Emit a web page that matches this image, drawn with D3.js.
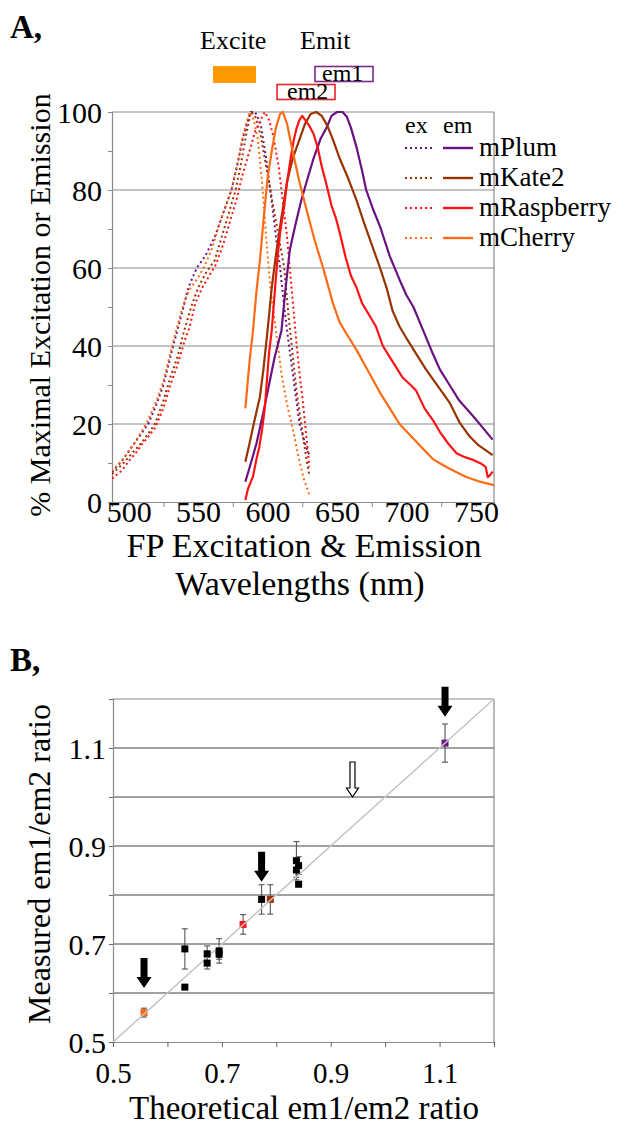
<!DOCTYPE html>
<html><head><meta charset="utf-8">
<script src="https://cdn.jsdelivr.net/npm/d3@7"></script>
<style>
body{margin:0;background:#fff;}
text{font-family:"Liberation Serif","Times New Roman",serif;fill:#000;}
</style></head>
<body>
<div id="chart"></div>
<script>
// ---------- Panel A data: [wavelength nm, % of max] ----------
const seriesNames = ["mPlum","mKate2","mRaspberry","mCherry"];
const seriesColors = ["#6a1280","#993300","#ff1212","#ff6a14"];

const plumEx = [[488,7.7],[495,10.5],[500,13],[505,15.5],[510,18],[514,20],[520,25],[525,30],[532,40],[538,48],[543,55],[549,60],[555,63],[562,68],[568,74],[574,80],[578,86],[582,93],[586,98],[588,100],[591,100],[595,97],[599,88],[603,77],[606,68],[609,60],[612,50],[614,44],[617,36],[620,28],[623,20],[627,15],[630,12]];
const kate2Ex = [[488,7.2],[495,9.5],[500,11.5],[505,13.5],[510,15.5],[514,17.5],[519,20],[525,26],[530,32],[535,37],[540,44],[545,50],[550,55],[556,59],[562,62],[567,68],[572,74],[577,80],[581,87],[585,95],[588,100],[591,99],[595,94],[599,86],[603,78],[607,70],[610,64],[612,60],[615,48],[618,38],[621,28],[625,18],[628,11],[630,7]];
const raspEx = [[488,6],[495,8],[500,10.5],[505,12.5],[510,15],[514,16.7],[519,19],[525,24],[530,30],[535,35],[540,41],[544,45],[548,51],[553,55],[558,58],[563,61],[568,66],[573,72],[578,78],[582,84],[587,90],[591,95],[595,98],[598,100],[601,98],[604,94],[608,86],[611,77],[614,68],[616,60],[619,48],[621,40],[623,33],[625,27],[627,20],[629,13],[630,9]];
const cherryEx = [[488,8],[495,10.5],[500,13],[505,15.5],[510,18.5],[514,21],[520,26],[525,31],[532,41],[538,49],[543,54],[549,57],[554,60],[560,65],[566,72],[574,80],[579,88],[583,95],[587,100],[590,98],[593,93],[596,82],[599,68],[602,55],[606,44],[610,33],[614,25],[618,19],[622,12],[626,6],[630,2]];

const plumEm = [[584,5.2],[588,10],[592,15],[597,23],[601,30],[605,37],[610,44],[613,55],[616,64.6],[620,71],[624,77],[628,82],[633,88],[638,93],[642.5,96],[646,99],[650,100],[654,100],[657,98.8],[660,96],[664,91],[668,85],[671,80],[676,75],[681,70.6],[688,63],[695,57],[700,53],[705,50],[712,44],[719,38],[724,34],[731,30],[738,26],[748,22],[755,19],[762,16]];
const kate2Em = [[584,10.3],[587,15],[590,20],[594.5,27],[597,34],[600,44],[603,55],[606.5,64.6],[610,73],[614,82],[618,88],[623,93],[627,97],[631,99.5],[635,100],[639,99],[643,96.5],[647,93],[652,88],[658,83],[664,77.4],[670,71],[676,65],[681,60],[686,54.5],[690,49],[695,45],[700,42],[707,38],[714,34],[724,29],[731,25.5],[738,20.5],[745,17],[752,14.5],[762,12]];
const raspEm = [[584,0.5],[586,3.5],[589.5,6.5],[592,11],[594,14],[596,18.5],[598,24],[599.5,31],[601,38],[603,44],[605,53],[607,62],[609,69],[612,76],[614,82],[617,89],[619,93],[621,96],[623,98],[625,99],[627,98],[630,96.5],[633,94.5],[636,91],[639,86],[642,82],[646,76],[649,73],[652,69],[656,63],[660,58],[664,55],[668,51],[673,48],[678,45],[683,40],[690,36],[697,32],[703,30],[707,28.5],[713,24],[719,21],[724,18],[730,15],[736,12.5],[742,11.5],[748,10.8],[754,9.8],[757,9],[758.5,6.4],[760,6.8],[762,7.8]];
const cherryEm = [[584,24],[587,36],[589.5,44],[592,54],[594.5,62],[597,72],[600,83],[603,90],[606,96],[609,99.5],[611,100],[614,97],[618,90],[623,82],[628,75],[634,67],[640,60],[647,51],[652,46],[657,43],[664,39],[671,34.5],[681,28],[688,24],[695,20],[703,17],[711,14],[719,11],[727,9.3],[735,7.8],[743,6.4],[752,5.3],[763,4.3]];

const exSeries = [plumEx, kate2Ex, raspEx, cherryEx];
const emSeries = [plumEm, kate2Em, raspEm, cherryEm];

const aYTicks = [0,10,20,30,40,50,60,70,80,90,100];
const aXTicks = [500,525,550,575,600,625,650,675,700,725,750];
const aGrid = [20,40,60,80,100];

// ---------- Panel B data ----------
const bTheoretical = [0.557,0.632,0.632,0.673,0.673,0.695,0.695,0.739,0.773,0.789,0.837,0.837,0.841,0.841,1.110];
const bMeasured    = [0.560,0.690,0.612,0.680,0.661,0.686,0.679,0.740,0.791,0.791,0.870,0.851,0.860,0.822,1.110];
const bError       = [0.009,0.041,0.003,0.016,0.012,0.025,0.010,0.020,0.030,0.030,0.039,0.015,0.018,0.005,0.039];
const bColors      = ["#ff6a14","#000","#000","#000","#000","#000","#000","#ff1212","#000","#993300","#000","#000","#000","#000","#6a1280"];
const arrowsFilledX = [0.557,0.773,1.110];
const arrowsFilledY = [0.610,0.827,1.164];
const arrowsOpenX = [0.940];
const arrowsOpenY = [1.000];
const bTicks = [0.5,0.6,0.7,0.8,0.9,1.0,1.1,1.2];
const bGrid = [0.6,0.7,0.8,0.9,1.0,1.1];

// ---------- Drawing ----------
const W = 641, H = 1128;
const svg = d3.select("#chart").append("svg").attr("width", W).attr("height", H);

// ===== Panel A =====
const xA = d3.scaleLinear().domain([488,763]).range([112,494]);
const yA = d3.scaleLinear().domain([0,100]).range([502,112]);
const gA = svg.append("g");

gA.append("text").attr("x",10).attr("y",38).attr("font-size",33).attr("font-weight","bold").text("A,");

// header
gA.append("text").attr("x",200).attr("y",49).attr("font-size",26).text("Excite");
gA.append("text").attr("x",300).attr("y",49).attr("font-size",26).text("Emit");
gA.append("rect").attr("x",213).attr("y",66).attr("width",43).attr("height",17).attr("fill","#ff9900");
gA.append("rect").attr("x",315).attr("y",66.5).attr("width",58).attr("height",15).attr("fill","none").attr("stroke","#7a2a8c").attr("stroke-width",1.6);
gA.append("text").attr("x",322).attr("y",81).attr("font-size",24).text("em1");
gA.append("rect").attr("x",277).attr("y",84.5).attr("width",58).attr("height",15).attr("fill","none").attr("stroke","#e8242a").attr("stroke-width",1.6);
gA.append("text").attr("x",287).attr("y",99).attr("font-size",24).text("em2");

// grid
gA.selectAll(".gridA").data(aGrid).enter().append("line")
  .attr("x1",xA(488)).attr("x2",xA(763)).attr("y1",d=>yA(d)).attr("y2",d=>yA(d))
  .attr("stroke","#8a8a8a").attr("stroke-width",1.2);
gA.append("line").attr("x1",xA(763)).attr("x2",xA(763)).attr("y1",yA(0)).attr("y2",yA(100)).attr("stroke","#8a8a8a").attr("stroke-width",1.2);

// axes
const axA_y = gA.append("g").attr("transform",`translate(${xA(488)},0)`)
  .call(d3.axisLeft(yA).tickValues(aYTicks).tickSize(4).tickPadding(6).tickFormat(d=> d%20===0 ? d : ""));
const axA_x = gA.append("g").attr("transform",`translate(0,${yA(0)})`)
  .call(d3.axisBottom(xA).tickValues(aXTicks).tickSize(5).tickFormat(d=> d%50===0 ? d : ""));
[axA_y, axA_x].forEach(ax=>{
  ax.select(".domain").attr("stroke","#8a8a8a").attr("stroke-width",1.2);
  ax.selectAll(".tick line").attr("stroke","#8a8a8a");
  ax.selectAll("text").attr("font-size",30).attr("font-family","Liberation Serif").attr("fill","#000");
});
axA_y.selectAll("text").attr("dy","0.34em");
axA_x.selectAll("text").attr("y",20).attr("dy","0");

// curves
svg.append("clipPath").attr("id","clipA").append("rect")
  .attr("x",xA(488)).attr("y",yA(100)-3).attr("width",xA(763)-xA(488)).attr("height",yA(0)-yA(100)+3);
const line = d3.line().x(d=>xA(d[0])).y(d=>yA(d[1]));
const curves = gA.append("g").attr("clip-path","url(#clipA)");
exSeries.forEach((s,i)=>{
  curves.append("path").attr("d",line(s)).attr("fill","none").attr("stroke",seriesColors[i])
    .attr("stroke-width",2).attr("stroke-dasharray","2,3");
});
emSeries.forEach((s,i)=>{
  curves.append("path").attr("d",line(s)).attr("fill","none").attr("stroke",seriesColors[i])
    .attr("stroke-width",2.2).attr("stroke-linejoin","round");
});

// legend
gA.append("text").attr("x",405).attr("y",133).attr("font-size",24).text("ex");
gA.append("text").attr("x",443).attr("y",133).attr("font-size",24).text("em");
const legRowY = [148,178,208,238];
seriesNames.forEach((n,i)=>{
  const y = legRowY[i];
  gA.append("line").attr("x1",405).attr("x2",433).attr("y1",y).attr("y2",y)
    .attr("stroke",seriesColors[i]).attr("stroke-width",2).attr("stroke-dasharray","2,3");
  gA.append("line").attr("x1",443).attr("x2",473).attr("y1",y).attr("y2",y)
    .attr("stroke",seriesColors[i]).attr("stroke-width",2.4);
  gA.append("text").attr("x",479).attr("y",y+8).attr("font-size",27).text(n);
});

// axis titles
gA.append("text").attr("transform","translate(50,305) rotate(-90)").attr("text-anchor","middle")
  .attr("font-size",30).text("% Maximal Excitation or Emission");
gA.append("text").attr("x",304).attr("y",557).attr("text-anchor","middle").attr("font-size",34).text("FP Excitation & Emission");
gA.append("text").attr("x",300).attr("y",595).attr("text-anchor","middle").attr("font-size",34).text("Wavelengths (nm)");

// ===== Panel B =====
const xB = d3.scaleLinear().domain([0.5,1.2]).range([113,494]);
const yB = d3.scaleLinear().domain([0.5,1.2]).range([1042,699]);
const gB = svg.append("g");
gB.append("text").attr("x",10).attr("y",671).attr("font-size",33).attr("font-weight","bold").text("B,");

gB.selectAll(".gridB").data(bGrid).enter().append("line")
  .attr("x1",xB(0.5)).attr("x2",xB(1.2)).attr("y1",d=>yB(d)).attr("y2",d=>yB(d))
  .attr("stroke","#444").attr("stroke-width",1.2);
gB.append("line").attr("x1",xB(0.5)).attr("x2",xB(1.2)).attr("y1",yB(1.2)).attr("y2",yB(1.2)).attr("stroke","#8a8a8a").attr("stroke-width",1.2);
gB.append("line").attr("x1",xB(1.2)).attr("x2",xB(1.2)).attr("y1",yB(0.5)).attr("y2",yB(1.2)).attr("stroke","#8a8a8a").attr("stroke-width",1.2);

const fmt = d3.format(".1f");
const axB_y = gB.append("g").attr("transform",`translate(${xB(0.5)},0)`)
  .call(d3.axisLeft(yB).tickValues(bTicks).tickSize(4).tickPadding(3).tickFormat((d,i)=> i%2===0 ? fmt(d) : ""));
const axB_x = gB.append("g").attr("transform",`translate(0,${yB(0.5)})`)
  .call(d3.axisBottom(xB).tickValues(bTicks).tickSize(5).tickFormat((d,i)=> i%2===0 ? fmt(d) : ""));
[axB_y, axB_x].forEach(ax=>{
  ax.select(".domain").attr("stroke","#8a8a8a").attr("stroke-width",1.2);
  ax.selectAll(".tick line").attr("stroke","#666");
  ax.selectAll("text").attr("font-size",30).attr("font-family","Liberation Serif").attr("fill","#000");
});
axB_y.selectAll("text").attr("dy","0.34em");
axB_x.selectAll("text").attr("y",41).attr("dy","0").attr("font-size",29);

// error bars
const idx = d3.range(bTheoretical.length);
const eb = gB.append("g").attr("stroke","#555").attr("stroke-width",1.1);
idx.forEach(i=>{
  const x = xB(bTheoretical[i]);
  const y1 = yB(bMeasured[i]-bError[i]), y2 = yB(bMeasured[i]+bError[i]);
  eb.append("line").attr("x1",x).attr("x2",x).attr("y1",y1).attr("y2",y2);
  eb.append("line").attr("x1",x-3).attr("x2",x+3).attr("y1",y1).attr("y2",y1);
  eb.append("line").attr("x1",x-3).attr("x2",x+3).attr("y1",y2).attr("y2",y2);
});
const colored = idx.filter(i=>bColors[i] !== "#000");
const blacks = idx.filter(i=>bColors[i] === "#000");
const sq = 7;
gB.selectAll(".ptc").data(colored).enter().append("rect")
  .attr("x",i=>xB(bTheoretical[i])-sq/2).attr("y",i=>yB(bMeasured[i])-sq/2)
  .attr("width",sq).attr("height",sq).attr("fill",i=>bColors[i]);
// identity line
gB.append("line").attr("x1",xB(0.5)).attr("y1",yB(0.5)).attr("x2",xB(1.2)).attr("y2",yB(1.2))
  .attr("stroke","#c4c4c4").attr("stroke-width",1.5);
gB.selectAll(".ptb").data(blacks).enter().append("rect")
  .attr("x",i=>xB(bTheoretical[i])-sq/2).attr("y",i=>yB(bMeasured[i])-sq/2)
  .attr("width",sq).attr("height",sq).attr("fill","#000");

// arrows
function arrowPath(px,py,sw,hw,hh,len){
  return `M${px-sw/2},${py-len} L${px+sw/2},${py-len} L${px+sw/2},${py-hh} L${px+hw/2},${py-hh} L${px},${py} L${px-hw/2},${py-hh} L${px-sw/2},${py-hh} Z`;
}
arrowsFilledX.forEach((x,i)=>{
  gB.append("path").attr("d",arrowPath(xB(x),yB(arrowsFilledY[i]),7,15,11,30)).attr("fill","#000");
});
arrowsOpenX.forEach((x,i)=>{
  gB.append("path").attr("d",arrowPath(xB(x),yB(arrowsOpenY[i]),5,12,9,35))
    .attr("fill","#fff").attr("stroke","#000").attr("stroke-width",1.2);
});

gB.append("text").attr("transform","translate(50,864) rotate(-90)").attr("text-anchor","middle")
  .attr("font-size",32).text("Measured em1/em2 ratio");
gB.append("text").attr("x",304).attr("y",1119).attr("text-anchor","middle").attr("font-size",33).text("Theoretical em1/em2 ratio");
</script>
</body></html>
